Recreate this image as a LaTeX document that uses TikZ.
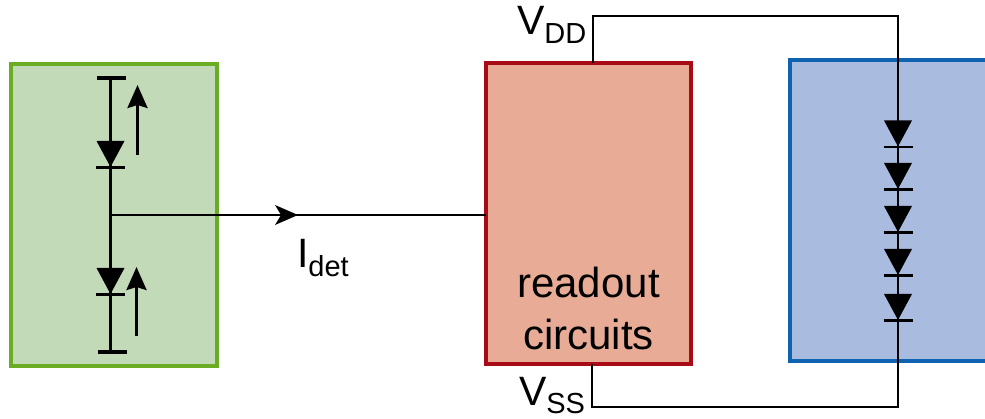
\documentclass[tikz,border=0pt]{standalone}
\usepackage{fontspec}
\setmainfont{Liberation Sans}
\usetikzlibrary{arrows.meta,positioning}
\definecolor{gfill}{HTML}{C2DAB8}
\definecolor{gline}{HTML}{6AAD25}
\definecolor{rfill}{HTML}{E8AC96}
\definecolor{rline}{HTML}{A80A16}
\definecolor{bfill}{HTML}{AABBE0}
\definecolor{bline}{HTML}{0F62B0}
\tikzset{
  x=1pt,y=-1pt,
  panel/.style={draw=#1line,fill=#1fill,line width=4pt,inner sep=0pt,outer sep=0pt,anchor=north west},
  wire/.style={draw=black,line width=2.2pt,line join=miter},
  thin wire/.style={draw=black,line width=2pt,line join=miter},
  endbar/.style={draw=black,line width=4pt},
  cur/.style={draw=black,line width=3pt,-{Stealth[length=23pt,width=20pt,inset=3pt]}},
  flow/.style={draw=black,line width=2.2pt},
  lab/.style={inner sep=0pt,outer sep=0pt,font=\fontsize{41}{41}\selectfont},
  txt/.style={inner sep=0pt,outer sep=0pt,font=\fontsize{42}{42}\selectfont,anchor=base},
  diode/.pic={
    \fill[black] (-14,-26) -- (14,-26) -- (0,0) -- cycle;
    \draw[black,line width=2.5pt] (-14.5,0.5) -- (14.5,0.5);
  }
}
\newcommand{\subs}[2][-9pt]{\raisebox{#1}{\fontsize{29}{29}\selectfont #2}}
\begin{document}
\begin{tikzpicture}
\useasboundingbox (0,0) rectangle (985,419);
\clip (0,0) rectangle (985,419);
\fill[white] (0,0) rectangle (985,419);
% panels
\node[panel=g,minimum width=206pt,minimum height=302pt] (det) at (11,64) {};
\node[panel=r,minimum width=205pt,minimum height=301pt] (ro) at (486,63) {};
\node[panel=b,minimum width=210pt,minimum height=301pt] (led) at (790,60) {};
% detector column
\coordinate (t1) at (110.5,78);
\coordinate (j) at (110.5,215);
\coordinate (t2) at (110.5,352);
\draw[wire] (t1) -- (t2);
\draw[endbar] ([xshift=-14pt]t1) -- ([xshift=15pt]t1);
\draw[endbar] ([xshift=-13pt]t2) -- ([xshift=16pt]t2);
\pic at (110.5,167) {diode};
\pic at (110.5,294) {diode};
\coordinate (a1s) at (137.5,155);
\coordinate (a1e) at (137.5,85);
\coordinate (a2s) at (136.5,336);
\coordinate (a2e) at (136.5,267);
\draw[cur] (a1s) -- (a1e);
\draw[cur] (a2s) -- (a2e);
% detector current
\draw[flow] (j) -- (j -| ro.west);
\coordinate (tip) at (298,215);
\fill[black] (tip) -- (275,205) -- (281,215) -- (275,225) -- cycle;
% supply loop
\coordinate (vdd) at (593,16);
\coordinate (vddr) at (898,16);
\coordinate (vssr) at (898,407);
\coordinate (vss) at (592,407);
\draw[thin wire] (593,63) -- (vdd) -- (vddr) -- (vssr) -- (vss) -- (592,364);
\foreach \yy in {146.5,189,232,275,320}{\pic at (898,\yy) {diode};}
% labels
\node[lab,anchor=base west] (idet) at (297,268) {I\subs{det}};
\node[lab,anchor=base west] (vddl) at (517,35) {V\subs{DD}};
\node[lab,anchor=base west] (vssl) at (519,406) {V\subs[-8pt]{SS}};
\node[txt] (rl1) at (588.5,298) {readout};
\node[txt] (rl2) at (588.5,350) {circuits};
\end{tikzpicture}
\end{document}
